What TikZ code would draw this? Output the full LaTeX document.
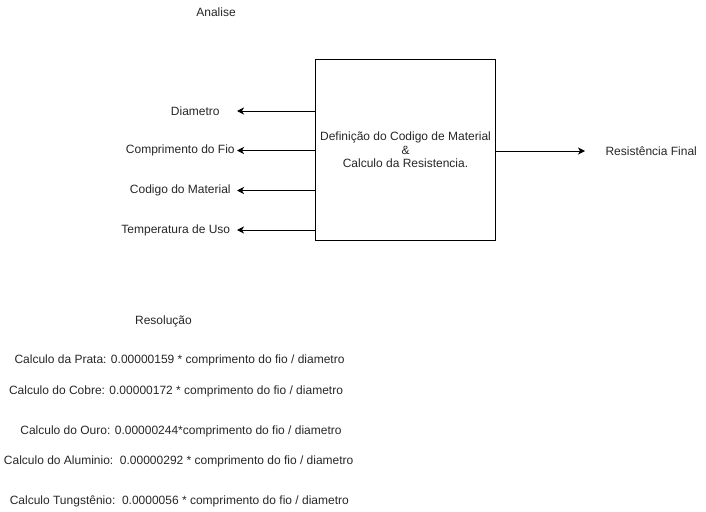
\documentclass[tikz,border=0pt]{standalone}
\usepackage{fontspec}
\setmainfont{Liberation Sans}
\usetikzlibrary{arrows.meta, positioning}

\begin{document}
\begin{tikzpicture}[
    x=1pt, y=-1pt,
    txt/.style={inner sep=0pt, font=\fontsize{12}{14}\selectfont, text=black!85},
    lbl/.style={txt, anchor=east, align=center},
    block/.style={draw=black, line width=1pt, minimum width=180pt, minimum height=180pt, inner sep=0pt, align=center, font=\fontsize{12}{13.5}\selectfont, text=black!85},
    edge/.style={-{Stealth[length=7pt,width=7pt,inset=2pt]}, line width=1pt}
]
\useasboundingbox (0,0) rectangle (706,511);

% Titles
\node[txt] (analise) at (216,12) {Analise};
\node[txt] (resolucao) at (163.5,321) {Resolução};

% Central block
\node[block] (proc) at (405.5,150) {Definição do Codigo de Material\\\&\\Calculo da Resistencia.};

% Inputs
\node[lbl, minimum width=83pt] (diam) at (237,111) {Diametro};
\node[lbl, minimum width=113pt] (comp) at (237,150.5) {Comprimento do Fio};
\node[lbl, minimum width=113pt] (cod) at (237,190.5) {Codigo do Material};
\node[lbl, minimum width=122pt] (temp) at (237,230) {Temperatura de Uso};

% Output
\node[txt, anchor=west, minimum width=132pt] (res) at (585,151) {Resistência Final};

% Arrows
\draw[edge] (proc.west |- diam) -- (diam.east);
\draw[edge] (proc.west |- comp) -- (comp.east);
\draw[edge] (proc.west |- cod) -- (cod.east);
\draw[edge] (proc.west |- temp) -- (temp.east);
\draw[edge] (proc.east |- res) -- (res.west);

% Calculations
\node[txt] (prata) at (179.5,360) {Calculo da Prata: 0.00000159 * comprimento do fio / diametro};
\node[txt] (cobre) at (176,391) {Calculo do Cobre: 0.00000172 * comprimento do fio / diametro};
\node[txt] (ouro) at (181,431) {Calculo do Ouro: 0.00000244*comprimento do fio / diametro};
\node[txt] (alum) at (178.7,461) {Calculo do Aluminio:\ \ 0.00000292 * comprimento do fio / diametro};
\node[txt] (tung) at (179.3,501) {Calculo Tungstênio:\ \ 0.0000056 * comprimento do fio / diametro};

\end{tikzpicture}
\end{document}
